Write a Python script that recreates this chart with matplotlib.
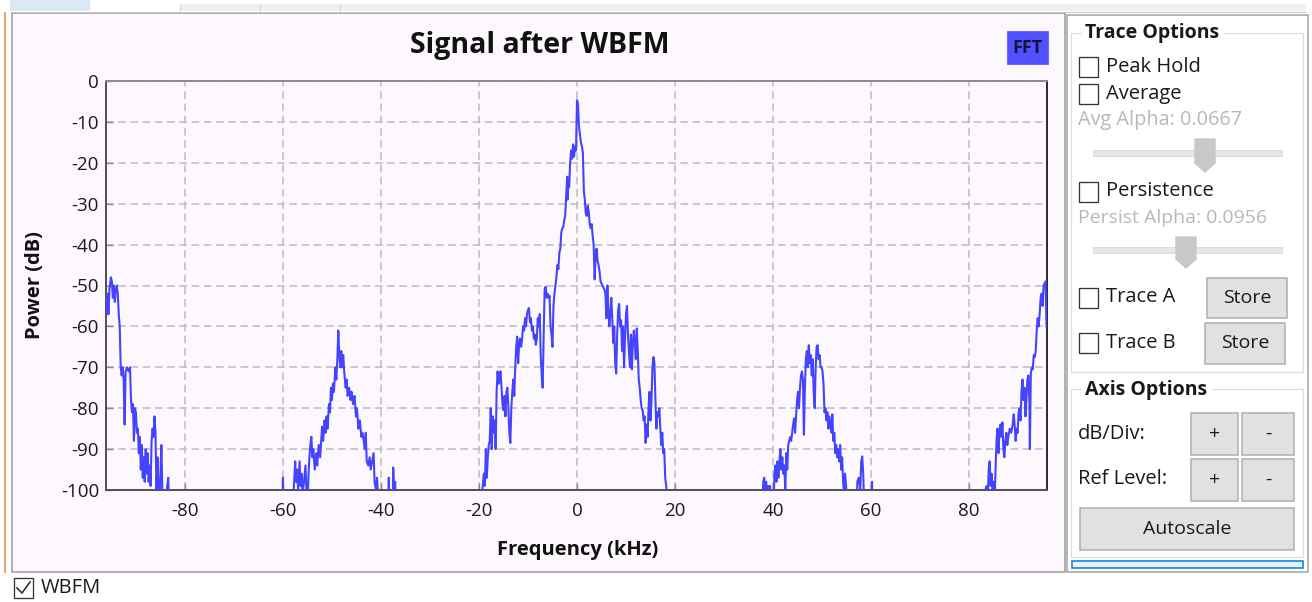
import matplotlib
matplotlib.use('Agg')
import matplotlib.pyplot as plt
from matplotlib.patches import Rectangle, Polygon

W, H = 1312, 602

# ---- data: frequency (kHz) and power (dB) ----
freq_khz = [
    -96.0, -95.8, -95.6, -95.4, -95.1, -94.9, -94.7, -94.5, -94.3, -94.1, -93.9, -93.7, -93.5, -93.3,
    -93.1, -92.9, -92.7, -92.5, -92.3, -92.1, -91.8, -91.5, -91.2, -91.0, -90.8, -90.6, -90.4, -90.2,
    -90.0, -89.8, -89.6, -89.4, -89.2, -89.0, -88.8, -88.6, -88.4, -88.2, -88.0, -87.8, -87.6, -87.4,
    -87.2, -87.0, -86.8, -86.6, -86.4, -86.2, -86.0, -85.8, -85.6, -85.4, -85.2, -85.0, -84.8, -84.6,
    -84.4, -84.2, -84.0, -83.7, -83.4, -83.1, -82.8,
    -60.5, -60.2, -60.0, -59.8, -59.2, -57.8, -57.5, -57.3, -57.1, -56.9, -56.6, -56.4, -56.2, -56.0,
    -55.7, -55.4, -55.2, -55.0, -54.8, -54.6, -54.4, -54.2, -54.0, -53.8, -53.5, -53.2, -53.0, -52.7,
    -52.4, -52.2, -52.0, -51.8, -51.5, -51.3, -51.1, -50.9, -50.6, -50.4, -50.2, -50.0, -49.8, -49.6,
    -49.3, -49.1, -48.9, -48.7, -48.5, -48.3, -48.1, -47.9, -47.7, -47.5, -47.2, -47.0, -46.8, -46.5,
    -46.2, -46.0, -45.7, -45.4, -45.1, -44.9, -44.6, -44.3, -44.0, -43.8, -43.5, -43.3, -43.1, -42.9,
    -42.6, -42.3, -42.1, -41.8, -41.5, -41.3, -41.0, -40.8, -40.5, -40.0, -38.6, -38.4, -38.2, -37.6,
    -37.5, -37.3, -37.1, -36.8, -36.5,
    -19.8, -19.6, -19.3, -19.0, -18.8, -18.6, -18.4, -18.2, -18.0, -17.8, -17.6, -17.4, -17.2, -17.0,
    -16.8, -16.6, -16.4, -16.2, -16.0, -15.8, -15.6, -15.4, -15.2, -15.0, -14.8, -14.6, -14.4, -14.2,
    -14.0, -13.8, -13.6, -13.4, -13.2, -13.0, -12.8, -12.6, -12.4, -12.2, -12.0, -11.8, -11.6, -11.4,
    -11.2, -11.0, -10.8, -10.6, -10.4, -10.2, -10.0, -9.8, -9.6, -9.4, -9.2, -9.0, -8.8, -8.6,
    -8.4, -8.2, -8.0, -7.8, -7.6, -7.4, -7.2, -7.0, -6.8, -6.6, -6.4, -6.2, -6.0, -5.8,
    -5.6, -5.4, -5.2, -5.0, -4.8, -4.6, -4.4, -4.2, -4.0, -3.8, -3.6, -3.4, -3.2, -3.0,
    -2.8, -2.6, -2.4, -2.2, -2.0, -1.9, -1.8, -1.6, -1.4, -1.2, -1.0, -0.8, -0.6, -0.4,
    -0.2, 0.0, 0.2, 0.4, 0.6, 0.8, 1.0, 1.2, 1.4, 1.6, 1.8, 2.0, 2.2, 2.4,
    2.6, 2.8, 3.0, 3.2, 3.4, 3.6, 3.8, 4.0, 4.2, 4.4, 4.6, 4.8, 5.0, 5.2,
    5.4, 5.6, 5.8, 6.0, 6.2, 6.4, 6.6, 6.8, 7.0, 7.2, 7.4, 7.6, 7.8, 8.0,
    8.2, 8.4, 8.6, 8.8, 9.0, 9.2, 9.4, 9.6, 9.8, 10.0, 10.2, 10.4, 10.6, 10.8,
    11.0, 11.2, 11.4, 11.6, 11.8, 12.0, 12.2, 12.4, 12.6, 12.8, 13.0, 13.2, 13.4, 13.6,
    13.8, 14.0, 14.2, 14.4, 14.6, 14.8, 15.0, 15.2, 15.4, 15.6, 15.8, 16.0, 16.2, 16.4,
    16.6, 16.8, 17.0, 17.2, 17.4, 17.6, 17.8, 18.0, 18.3, 18.6, 18.8,
    37.5, 37.8, 38.0, 38.2, 38.4, 38.6, 38.8, 39.0, 39.2, 39.4, 39.6, 40.1, 40.3, 40.5,
    40.7, 40.9, 41.1, 41.3, 41.5, 41.7, 41.9, 42.1, 42.3, 42.5, 42.7, 42.9, 43.1, 43.3,
    43.5, 43.7, 43.9, 44.1, 44.3, 44.5, 44.7, 44.9, 45.1, 45.3, 45.5, 45.7, 45.9, 46.1,
    46.3, 46.5, 46.7, 46.9, 47.1, 47.3, 47.5, 47.7, 47.9, 48.1, 48.3, 48.5, 48.7, 48.9,
    49.1, 49.3, 49.5, 49.7, 49.9, 50.1, 50.3, 50.5, 50.7, 50.9, 51.1, 51.3, 51.5, 51.7,
    51.9, 52.1, 52.3, 52.5, 52.7, 52.9, 53.1, 53.3, 53.5, 53.7, 53.9, 54.1, 54.3, 54.5,
    54.7, 54.9, 55.1, 55.4, 57.0, 57.2, 57.5, 57.8, 58.0, 58.2, 58.4, 58.6, 59.0, 60.0,
    60.2, 60.4, 60.6,
    82.8, 83.0, 83.3, 83.6, 83.8, 84.0, 84.2, 84.4, 84.6, 84.8, 85.0, 85.2, 85.4, 85.6,
    85.8, 86.0, 86.2, 86.4, 86.6, 86.8, 87.0, 87.2, 87.4, 87.6, 87.8, 88.0, 88.3, 88.6,
    88.9, 89.1, 89.3, 89.5, 89.7, 89.9, 90.1, 90.3, 90.5, 90.7, 90.9, 91.1, 91.3, 91.5,
    91.7, 91.9, 92.1, 92.3, 92.4, 92.6, 92.8, 93.0, 93.2, 93.4, 93.6, 93.8, 94.0, 94.2,
    94.4, 94.6, 94.8, 95.0, 95.2, 95.4, 95.6, 95.8,
]

power_db = [
    -57, -52, -57, -51, -48, -49, -53, -50, -54, -51, -50, -52, -57, -60,
    -70, -72, -70, -73, -84, -71, -70, -71, -70, -78, -81, -79, -88, -80,
    -81, -86, -85, -91, -87, -95, -89, -97, -92, -98, -90, -96, -91, -98,
    -94, -99, -88, -85, -87, -82, -86, -101, -92, -99, -104, -97, -89, -100,
    -106, -102, -108, -100, -97, -110, -120,
    -120, -110, -97, -110, -108, -100, -93, -98, -95, -100, -93, -99, -96, -101,
    -98, -94, -100, -104, -97, -92, -89, -87, -92, -90, -95, -91, -94, -89,
    -92, -88, -84.5, -88, -83, -86, -82, -85, -79, -81, -75, -78, -74, -76,
    -70, -73, -68, -61, -67, -70, -66, -70, -67, -71, -75, -73, -77, -75,
    -78, -76, -79, -77, -82, -80, -85, -83, -87, -86, -88, -90, -86, -93,
    -94, -92, -95, -93, -91, -98, -100, -97, -104, -110, -110, -97, -110, -104,
    -94.5, -101, -98, -110, -120,
    -120, -112, -100, -96, -99, -90, -97, -92, -89, -88, -80, -90, -82, -86,
    -83, -90, -76, -71, -74, -72, -71, -75, -79, -80.5, -77, -82, -76, -75,
    -80, -86, -88.5, -80, -76, -73, -77, -70, -65, -62.5, -69, -64, -63, -65,
    -63, -60, -61, -58, -60, -57, -56, -55.5, -59, -58, -61, -60, -63, -62,
    -64.5, -63, -58, -60, -57, -67, -72, -75, -62, -51, -50.3, -53, -52, -53,
    -52.5, -60, -62, -65, -55, -52, -50, -48, -45, -46, -42, -41, -37, -36,
    -35.7, -34, -32.8, -28, -23.4, -29, -25, -26, -20, -17, -19, -15.5, -18.5, -16,
    -17, -4.7, -5.5, -11, -13, -15, -16, -17.5, -27, -29, -32.5, -33, -30.5, -32,
    -35, -36, -35, -38, -40, -48.5, -43, -41, -44, -45, -46.5, -49, -49.5, -50,
    -50.5, -51, -52, -58, -50, -56, -60, -57, -53, -58, -64, -60, -69, -71.5,
    -62, -56, -54.5, -60, -58.5, -66, -60, -70, -63, -57, -55, -62, -66, -70,
    -62, -70.5, -64, -61, -64, -68, -60.5, -66, -73, -75, -78, -80, -80.5, -83,
    -82, -88.5, -84, -87, -80, -76, -83, -78, -70, -67.5, -69, -78, -85, -81,
    -82, -80, -85, -89, -86, -91, -90, -97, -100, -108, -120,
    -120, -110, -98, -97, -101, -98, -103, -99, -101, -99, -110, -104, -96, -94,
    -98, -93, -97, -93, -90, -95, -92, -96, -94, -100, -91, -95, -89, -88,
    -87, -88, -86, -84, -82.5, -86, -82, -78, -76, -80, -75, -72, -71, -73,
    -86.5, -75, -68, -66, -70, -64.6, -69, -67, -72, -68, -76, -80, -70, -65,
    -64.6, -68, -67, -70, -70, -71, -74, -81, -80, -83, -81, -85, -82, -84,
    -86, -81.5, -88, -86, -91, -89, -92, -90, -93, -89, -95, -92, -98, -101,
    -96, -99, -102, -110, -110, -98, -97, -100, -93, -91.8, -96, -104, -110, -108,
    -98, -110, -120,
    -120, -110, -100, -99, -103, -95, -93, -99, -96, -101, -98, -103, -95, -88,
    -85, -91, -86, -84, -87, -83.5, -90, -92, -88, -86, -89, -87, -85, -86,
    -84, -81.5, -84, -88, -85, -86, -81, -80, -83, -76, -73, -78, -75, -82,
    -78, -73, -72, -78, -90, -71.5, -70, -70.5, -67, -67.5, -66, -61, -58, -60,
    -57, -53, -52, -55, -50, -49.5, -49, -60,
]

y_ticks = [0, -10, -20, -30, -40, -50, -60, -70, -80, -90, -100]
x_ticks = [-80, -60, -40, -20, 0, 20, 40, 60, 80]

title = 'Signal after WBFM'
x_label = 'Frequency (kHz)'
y_label = 'Power (dB)'
legend_name = 'WBFM'

plt.rcParams['font.family'] = ['Open Sans', 'DejaVu Sans']
BOLD = ['Open Sans', 'DejaVu Sans']

fig = plt.figure(figsize=(W / 100, H / 100), dpi=100)
fig.patch.set_facecolor('white')

# background overlay in pixel coordinates
bg = fig.add_axes([0, 0, 1, 1], zorder=0)
bg.set_xlim(0, W)
bg.set_ylim(H, 0)
bg.axis('off')

PX = 0.72  # points per pixel


def rect(x0, y0, x1, y1, fc, ec='none', lw=1.0, z=1):
    bg.add_patch(Rectangle((x0, y0), x1 - x0, y1 - y0, facecolor=fc, edgecolor=ec,
                           linewidth=lw * PX, zorder=z))


def hline(x0, x1, y, c, lw=1.0, z=2):
    bg.plot([x0, x1], [y, y], color=c, lw=lw * PX, zorder=z, solid_capstyle='butt')


def vline(x, y0, y1, c, lw=1.0, z=2):
    bg.plot([x, x], [y0, y1], color=c, lw=lw * PX, zorder=z, solid_capstyle='butt')


# tab bar at top
rect(10, 0, 90, 11, '#dbe8f6')
rect(180, 4, 1306, 11, '#f0f0f0', z=0.5)
for xs in (180, 260, 340):
    vline(xs, 4, 11, '#d0d0d0')
hline(10, 1306, 11.5, '#c8c8c8')

# left orange line
vline(5, 12, 573, '#e0893a', lw=1.5)

# main frame
rect(12, 13, 1065, 572, '#fdf8fd', '#9a9a9a', lw=1.5)

# right panel
rect(1067, 15, 1308, 572, 'white', '#a0a0a0', lw=1.5)
rect(1071, 33, 1303, 372, 'white', '#dcdcdc', lw=1.2, z=1.2)
rect(1071, 389, 1303, 557, 'white', '#dcdcdc', lw=1.2, z=1.2)
rect(1082, 22, 1224, 44, 'white', z=1.3)
rect(1082, 378, 1212, 400, 'white', z=1.3)
bg.text(1085, 33, 'Trace Options', fontsize=14, fontweight='bold', family=BOLD, ha='left',
        va='center', color='#1a1a1a', zorder=3)
bg.text(1085, 390, 'Axis Options', fontsize=14, fontweight='bold', family=BOLD, ha='left',
        va='center', color='#1a1a1a', zorder=3)


def checkbox(x, y, checked=False):
    rect(x, y, x + 19, y + 20, 'white', '#333333', lw=1.3, z=3)
    if checked:
        bg.plot([x + 3, x + 8, x + 16], [y + 10, y + 15, y + 4], color='#333333',
                lw=1.2, zorder=4)


def button(x0, y0, x1, y1, label, fs=14):
    rect(x0, y0, x1, y1, '#e1e1e1', '#adadad', lw=1.5, z=3)
    if label:
        bg.text((x0 + x1) / 2, (y0 + y1) / 2, label, fontsize=fs, ha='center', va='center',
                color='#1a1a1a', zorder=4)


txt = dict(fontsize=14.5, ha='left', va='center', color='#1a1a1a', zorder=4)
checkbox(1079, 57)
bg.text(1106, 67, 'Peak Hold', **txt)
checkbox(1079, 84)
bg.text(1106, 94, 'Average', **txt)
bg.text(1078, 120, 'Avg Alpha: 0.0667', fontsize=14.3, ha='left', va='center', color='#b8b8b8',
        zorder=4)
rect(1093, 150, 1282, 156, '#e6e6e6', '#dcdcdc', z=3)
bg.add_patch(Polygon([(1195, 139), (1215, 139), (1215, 163), (1205, 172), (1195, 163)],
                     closed=True, facecolor='#c8c8c8', edgecolor='#c8c8c8', zorder=4))
checkbox(1079, 182)
bg.text(1106, 191, 'Persistence', **txt)
bg.text(1078, 218, 'Persist Alpha: 0.0956', fontsize=14, ha='left', va='center',
        color='#b8b8b8', zorder=4)
rect(1093, 247, 1282, 253, '#e6e6e6', '#dcdcdc', z=3)
bg.add_patch(Polygon([(1176, 237), (1196, 237), (1196, 259), (1186, 268), (1176, 259)],
                     closed=True, facecolor='#c8c8c8', edgecolor='#c8c8c8', zorder=4))
checkbox(1079, 288)
bg.text(1106, 297, 'Trace A', **txt)
button(1207, 278, 1287, 318, 'Store')
checkbox(1079, 333)
bg.text(1106, 343, 'Trace B', **txt)
button(1205, 323, 1285, 364, 'Store')

bg.text(1078, 434, 'dB/Div:', **txt)
button(1191, 413, 1238, 455, '+')
button(1242, 413, 1294, 455, '-')
bg.text(1078, 479, 'Ref Level:', **txt)
button(1191, 459, 1238, 501, '+')
button(1242, 459, 1294, 501, '-')
button(1080, 508, 1294, 550, 'Autoscale')
rect(1072, 561, 1303, 568, '#e5f1fb', '#0078d7', lw=1.5, z=3)

# bottom legend checkbox
checkbox(14, 578, checked=True)
bg.text(41, 588, legend_name, fontsize=14.5, ha='left', va='center', color='#1a1a1a', zorder=4)

# title, FFT button, axis labels
bg.text(540, 46, title, fontsize=20.5, fontweight='bold', family=BOLD, ha='center', va='center',
        color='#111111', zorder=4)
rect(1007, 31, 1048, 64, '#5050ff', '#6a6aff', z=3)
bg.text(1027.5, 48, 'FFT', fontsize=13, fontweight='bold', family=BOLD, ha='center',
        va='center', color='#14143c', zorder=4)
bg.text(578, 550, x_label, fontsize=14.5, fontweight='bold', family=BOLD, ha='center',
        va='center', color='#111111', zorder=4)
bg.text(35, 285, y_label, fontsize=14.5, fontweight='bold', family=BOLD, ha='center',
        va='center', rotation=90, color='#111111', zorder=4)

# ---- main plot ----
L, R, T, B = 106, 1047, 81, 490
ax = fig.add_axes([L / W, 1 - B / H, (R - L) / W, (B - T) / H], zorder=2)
ax.set_facecolor('#fdf8fd')
ax.plot(freq_khz, power_db, color='#4444ff', lw=1.5, zorder=3)
ax.set_xlim(-96.1, 95.9)
ax.set_ylim(-100, 0)
ax.set_xticks(x_ticks)
ax.set_yticks(y_ticks)
ax.set_xticklabels([str(v) for v in x_ticks])
ax.set_yticklabels([str(v) for v in y_ticks])
ax.grid(True, linestyle=(0, (5, 3)), color='#bcbcbc', lw=1.1, zorder=1)
ax.tick_params(axis='both', direction='in', length=5, width=1, color='#8a8a8a',
               labelsize=13.5, labelcolor='#1a1a1a')
ax.tick_params(axis='x', pad=9)
ax.tick_params(axis='y', pad=5)
ax.tick_params(top=False, right=False)
for side, c in (('left', '#505050'), ('bottom', '#505050'), ('top', '#8a8a8a'),
                ('right', '#2a2a2a')):
    ax.spines[side].set_color(c)
    ax.spines[side].set_linewidth(1.4)

fig.savefig('out.png', dpi=100, facecolor=fig.get_facecolor())
